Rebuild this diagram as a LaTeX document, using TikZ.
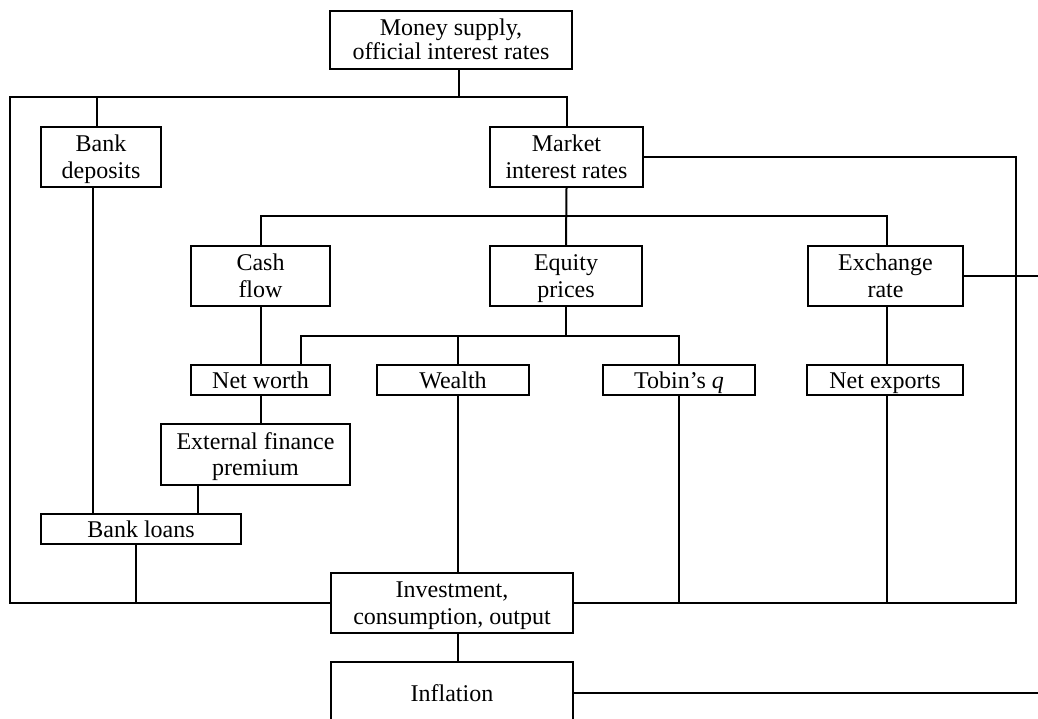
\documentclass[tikz,border=0pt]{standalone}
\usepackage{fontspec}
\setmainfont{Liberation Serif}
\begin{document}
\begin{tikzpicture}[x=1pt,y=-1pt]
\tikzset{
  box/.style={draw, line width=2pt, inner sep=0pt, align=center,
    text height=16pt, text depth=0pt,
    font=\fontsize{24}{26.5}\selectfont},
  boxtwo/.style={box, text height=42.5pt},
  ln/.style={line width=2pt}
}
\useasboundingbox (0,0) rectangle (1038,718);
\clip (0,0) rectangle (1038,718);

% boxes
\node[boxtwo, minimum width=242pt, minimum height=58pt, text height=40pt,
  font=\fontsize{24}{24}\selectfont] (top) at (451,39.5) {Money supply,\\official interest rates};
\node[boxtwo, minimum width=120pt, minimum height=60pt] (dep) at (101,157) {Bank\\deposits};
\node[boxtwo, minimum width=153pt, minimum height=60pt] (mkt) at (566.5,157) {Market\\interest rates};
\node[boxtwo, minimum width=139pt, minimum height=60pt] (cash) at (260.5,276) {Cash\\flow};
\node[boxtwo, minimum width=152pt, minimum height=60pt] (eq) at (566,276) {Equity\\prices};
\node[boxtwo, minimum width=155pt, minimum height=60pt] (exch) at (885.5,276) {Exchange\\rate};
\node[box, minimum width=139pt, minimum height=30pt] (nw) at (260.5,380) {Net worth};
\node[box, minimum width=152pt, minimum height=30pt] (wealth) at (453,380) {Wealth};
\node[box, minimum width=152pt, minimum height=30pt] (tobin) at (679,380) {Tobin’s \textit{q}};
\node[box, minimum width=156pt, minimum height=30pt] (nx) at (885,380) {Net exports};
\node[boxtwo, minimum width=189pt, minimum height=61pt] (efp) at (255.5,454.5) {External finance\\premium};
\node[box, minimum width=200pt, minimum height=30pt] (loans) at (141,529) {Bank loans};
\node[boxtwo, minimum width=242pt, minimum height=60pt] (inv) at (452,603) {Investment,\\consumption, output};
\node[box, minimum width=242pt, minimum height=62pt] (infl) at (452,693) {Inflation};

% junction coordinates
\coordinate (busL) at (10,97);
\coordinate (jTop) at (458.5,97);
\coordinate (jDep) at (97,97);
\coordinate (jMkt) at (566.5,97);
\coordinate (botL) at (10,603);
\coordinate (xdep) at (93,0);
\coordinate (rTop) at (1016,157);
\coordinate (rBot) at (1016,603);
\coordinate (j2L) at (261,216);
\coordinate (j2R) at (887,216);
\coordinate (exR) at (1038,276);
\coordinate (j3L) at (301,336);
\coordinate (j3R) at (679,336);
\coordinate (j3W) at (458,336);
\coordinate (xefp) at (198,0);
\coordinate (xl) at (136,0);
\coordinate (inR) at (1038,693);

% connectors
\draw[ln] (top.south -| jTop) -- (jTop);
\draw[ln] (inv.west) -- (botL) -- (busL) -- (jMkt) -- (mkt.north);
\draw[ln] (jDep) -- (dep.north -| jDep);
\draw[ln] (dep.south -| xdep) -- (loans.north -| xdep);
\draw[ln] (mkt.east) -- (rTop) -- (rBot) -- (inv.east);
\draw[ln] (mkt.south) -- (eq.north);
\draw[ln] (cash.north -| j2L) -- (j2L) -- (j2R) -- (exch.north -| j2R);
\draw[ln] (exch.east) -- (exR);
\draw[ln] (cash.south) -- (nw.north);
\draw[ln] (eq.south) -- (eq.south |- j3L);
\draw[ln] (nw.north -| j3L) -- (j3L) -- (j3R) -- (tobin.north);
\draw[ln] (j3W) -- (wealth.north -| j3W);
\draw[ln] (wealth.south -| j3W) -- (inv.north -| j3W);
\draw[ln] (tobin.south) -- (tobin.south |- rBot);
\draw[ln] (exch.south -| j2R) -- (nx.north -| j2R);
\draw[ln] (nx.south -| j2R) -- (j2R |- rBot);
\draw[ln] (nw.south) -- (nw.south |- efp.north);
\draw[ln] (efp.south -| xefp) -- (loans.north -| xefp);
\draw[ln] (loans.south -| xl) -- (xl |- botL);
\draw[ln] (inv.south -| j3W) -- (infl.north -| j3W);
\draw[ln] (infl.east) -- (inR);
\end{tikzpicture}
\end{document}
